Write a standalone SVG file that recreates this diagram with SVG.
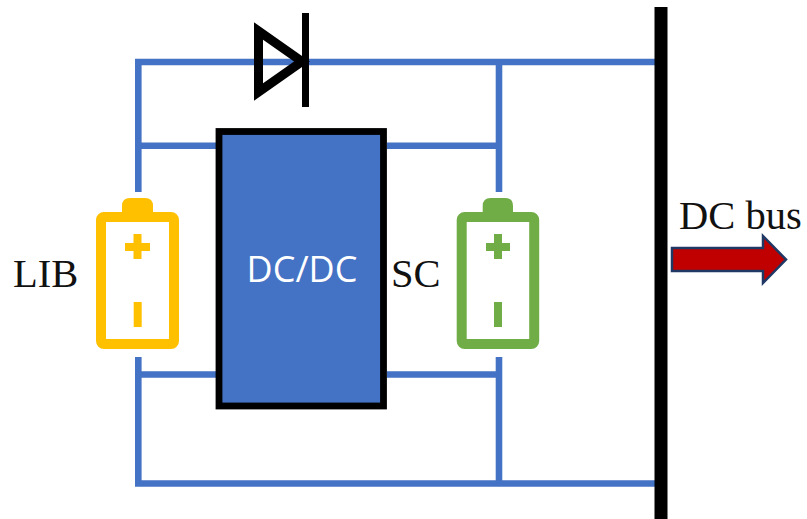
<svg xmlns="http://www.w3.org/2000/svg" width="807" height="519" viewBox="0 0 807 519">
<style>
.w{fill:none;stroke:#4472c4;stroke-width:6.6}
.t{font-family:"Liberation Serif",serif;font-size:40.5px;fill:#111}
</style>
<rect width="807" height="519" fill="#fff"/>
<g id="connectors">
<path class="w" d="M138.300 192V62H656M138.300 145.700H219M138.300 357V483.500H656M138.300 374.500H217M387 145.700H499M499 62V192M387 374.500H499M499 357V483.500"/>
</g>
<g id="diode" fill="none" stroke="#000" stroke-width="9">
<path d="M258.500 31V92L302 61.500Z"/>
<path d="M305.500 13V107" stroke-width="7"/>
</g>
<g id="dcdc">
<rect x="219" y="131.500" width="164.500" height="274.500" fill="#4472c4" stroke="#000" stroke-width="6.800"/>
<text x="302" y="282" text-anchor="middle" font-family="Open Sans,sans-serif" font-size="36" fill="#fff">DC/DC</text>
</g>
<g id="lib">
<path d="M122 214V206Q122 198 130 198H145Q153 198 153 206V214Z" fill="#ffc000"/>
<rect x="101" y="217" width="73" height="127" rx="3" fill="#fff" stroke="#ffc000" stroke-width="10"/>
<path d="M125 243H133.500V234H141.500V243H150V251H141.500V259H133.500V251H125ZM133.700 302H141.700V327H133.700Z" fill="#ffc000"/>
<text class="t" x="13" y="287">LIB</text>
</g>
<g id="sc">
<path d="M482.700 214V206Q482.700 198 490.700 198H505Q513 198 513 206V214Z" fill="#70ad47"/>
<rect x="461.700" y="217" width="72.500" height="127" rx="3" fill="#fff" stroke="#70ad47" stroke-width="10"/>
<path d="M486 243H494V234H502V243H510V251H502V259H494V251H486ZM494 302H502V327H494Z" fill="#70ad47"/>
<text class="t" x="391" y="287">SC</text>
</g>
<g id="bus">
<rect x="654.500" y="7" width="13" height="512" fill="#000"/>
<text class="t" x="679" y="229">DC bus</text>
</g>
<g id="arrow">
<path d="M672 248H763V236L786 259.500L763 283V271H672Z" fill="#c00000" stroke="#203864" stroke-width="2.500"/>
</g>
</svg>
